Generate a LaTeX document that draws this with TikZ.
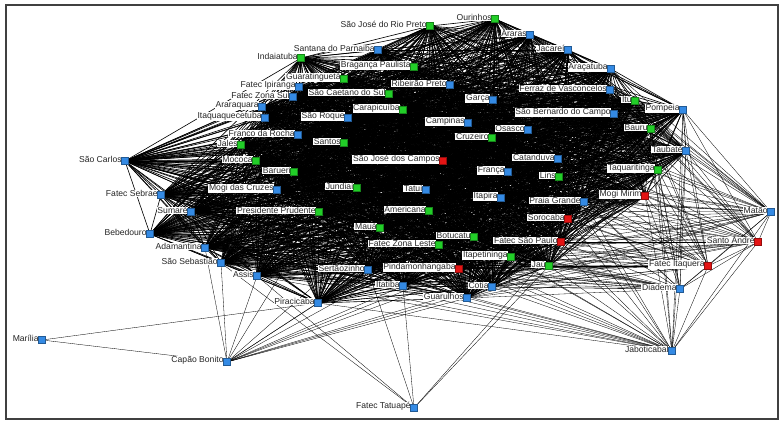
\documentclass[tikz,border=0pt]{standalone}
\usepackage{fontspec}
\setmainfont{Liberation Sans}
\usetikzlibrary{backgrounds}
\definecolor{nb}{RGB}{52,138,228}
\definecolor{ng}{RGB}{34,206,40}
\definecolor{nr}{RGB}{228,20,20}
\newcommand\nd[5]{%
  \node[lab] (#1l) at ({#2-2.5},{#3-1.5}) {#5};
  \node[mk,fill=#4,draw=#4!65!black] (#1) at (#2,#3) {};}
\begin{document}
\begin{tikzpicture}[x=1pt,y=-1pt,
  mk/.style={rectangle,minimum size=7pt,inner sep=0pt,line width=0.4pt},
  lab/.style={anchor=east,fill=white,inner sep=0.7pt,text=black!85,font=\fontsize{8.6}{9}\selectfont},
  edge/.style={draw=black,line width=0.32pt},
  coreedge/.style={draw=black,line width=0.62pt},
  frame/.style={draw=black!75,line width=1.3pt}]
\useasboundingbox (0,0) rectangle (784,426);
\draw[frame] (6,5) rectangle (778,419);
% nodes
\nd{sjrp}{430}{26}{ng}{São José do Rio Preto}
\nd{ouri}{495}{19}{ng}{Ourinhos}
\nd{santana}{378}{50}{nb}{Santana do Parnaiba}
\nd{indaia}{301}{58}{ng}{Indaiatuba}
\nd{braganca}{414}{67}{ng}{Bragança Paulista}
\nd{guara}{344}{79}{ng}{Guaratinguetá}
\nd{fipiranga}{299}{87}{nb}{Fatec Ipiranga}
\nd{fzsul}{293}{97}{nb}{Fatec Zona Sul}
\nd{ribeirao}{450}{85}{nb}{Ribeirão Preto}
\nd{scaetano}{389}{94}{ng}{São Caetano do Sul}
\nd{garca}{493}{100}{nb}{Garça}
\nd{carapi}{403}{110}{ng}{Carapicuíba}
\nd{sroque}{348}{118}{nb}{São Roque}
\nd{campinas}{468}{123}{nb}{Campinas}
\nd{araraquara}{262}{107}{nb}{Araraquara}
\nd{itaqua}{265}{118}{nb}{Itaquaquecetuba}
\nd{franco}{298}{135}{nb}{Franco da Rocha}
\nd{santos}{344}{143}{ng}{Santos}
\nd{cruzeiro}{492}{138}{ng}{Cruzeiro}
\nd{osasco}{528}{130}{nb}{Osasco}
\nd{sjc}{443}{161}{nr}{São José dos Campos}
\nd{jales}{241}{145}{ng}{Jales}
\nd{mococa}{256}{161}{ng}{Mococa}
\nd{barueri}{294}{172}{ng}{Barueri}
\nd{franca}{508}{172}{nb}{França}
\nd{mogicruzes}{277}{190}{nb}{Mogi das Cruzes}
\nd{jundiai}{357}{188}{ng}{Jundiaí}
\nd{tatui}{426}{190}{nb}{Tatuí}
\nd{itapira}{501}{198}{nb}{Itapira}
\nd{pprudente}{319}{212}{ng}{Presidente Prudente}
\nd{americana}{429}{211}{ng}{Americana}
\nd{araras}{530}{35}{nb}{Araras}
\nd{jacarei}{568}{50}{nb}{Jacareí}
\nd{aracatuba}{611}{69}{nb}{Araçatuba}
\nd{ferraz}{610}{90}{nb}{Ferraz de Vasconcelos}
\nd{itu}{635}{101}{ng}{Itú}
\nd{pompeia}{683}{110}{nb}{Pompeia}
\nd{sbc}{614}{114}{nb}{São Bernardo do Campo}
\nd{bauru}{651}{129}{ng}{Bauru}
\nd{taubate}{686}{151}{nb}{Taubaté}
\nd{catanduva}{558}{159}{nb}{Catanduva}
\nd{taquari}{658}{170}{ng}{Taquaritinga}
\nd{lins}{559}{177}{ng}{Lins}
\nd{mogimirim}{645}{196}{nr}{Mogi Mirim}
\nd{praiag}{584}{202}{nb}{Praia Grande}
\nd{matao}{771}{212}{nb}{Matão}
\nd{sorocaba}{568}{219}{nr}{Sorocaba}
\nd{fsp}{561}{242}{nr}{Fatec São Paulo}
\nd{standre}{758}{242}{nr}{Santo André}
\nd{itapet}{511}{257}{ng}{Itapetininga}
\nd{jau}{549}{266}{ng}{Jaú}
\nd{fitaquera}{708}{266}{nr}{Fatec Itaquera}
\nd{diadema}{680}{289}{nb}{Diadema}
\nd{jabot}{672}{351}{nb}{Jaboticabal}
\nd{botucatu}{474}{237}{ng}{Botucatu}
\nd{fzleste}{439}{245}{ng}{Fatec Zona Leste}
\nd{pinda}{459}{269}{nr}{Pindamonhangaba}
\nd{itatiba}{403}{286}{nb}{Itatiba}
\nd{cotia}{492}{287}{nb}{Cotia}
\nd{guarulhos}{467}{298}{nb}{Guarulhos}
\nd{maua}{380}{228}{ng}{Mauá}
\nd{sertao}{368}{270}{nb}{Sertãozinho}
\nd{piracicaba}{318}{303}{nb}{Piracicaba}
\nd{ftatuape}{414}{408}{nb}{Fatec Tatuapé}
\nd{assis}{257}{276}{nb}{Assis}
\nd{sumare}{191}{212}{nb}{Sumaré}
\nd{bebedouro}{150}{234}{nb}{Bebedouro}
\nd{adamantina}{205}{248}{nb}{Adamantina}
\nd{ssebastiao}{221}{263}{nb}{São Sebastião}
\nd{marilia}{42}{340}{nb}{Marília}
\nd{capao}{227}{362}{nb}{Capão Bonito}
\nd{scarlos}{125}{161}{nb}{São Carlos}
\nd{fsebrae}{161}{195}{nb}{Fatec Sebrae}
% edges
\def\corelist{sjrp,ouri,santana,indaia,braganca,guara,fipiranga,fzsul,ribeirao,scaetano,garca,carapi,sroque,campinas,araraquara,itaqua,franco,santos,cruzeiro,osasco,sjc,jales,mococa,barueri,franca,mogicruzes,jundiai,tatui,itapira,pprudente,americana,araras,jacarei,aracatuba,ferraz,itu,pompeia,sbc,bauru,taubate,catanduva,taquari,lins,mogimirim,praiag,sorocaba,fsp,itapet,jau,botucatu,fzleste,pinda,itatiba,cotia,guarulhos,maua,sertao,piracicaba,assis,sumare,bebedouro,adamantina,ssebastiao,scarlos,fsebrae}
\begin{scope}[on background layer]
\fill[white] (0,0) rectangle (784,426);
\foreach \a [count=\i] in \corelist {
  \foreach \b [count=\j] in \corelist {
    \ifnum\j>\i \draw[coreedge] (\a) -- (\b); \fi
  }
}
\foreach \s/\lst in {
  marilia/{capao,piracicaba},
  capao/{assis,ssebastiao,adamantina,piracicaba,sertao,itatiba,guarulhos,cotia,pinda,fzleste,maua,jau,pprudente,itapet},
  ftatuape/{ssebastiao,assis,sertao,itatiba,jau,fsp},
  jabot/{piracicaba,guarulhos,cotia,jau,itapet,fsp,sorocaba,praiag,mogimirim,taquari,taubate,pompeia,fitaquera,standre,matao,diadema,botucatu,pinda,assis,sertao,itatiba,fzleste,ssebastiao,adamantina,maua,lins,bauru,itapira},
  diadema/{ssebastiao,adamantina,assis,bebedouro,sumare,sertao,itatiba,guarulhos,cotia,jau,pinda,fzleste,itapet,mogimirim,taquari,taubate,pompeia,fitaquera,standre,matao,fsp,sorocaba,bauru,lins,maua,pprudente,botucatu,praiag,itu},
  fitaquera/{mogimirim,taquari,taubate,pompeia,bauru,itu,jau,fsp,sorocaba,praiag,itapet,cotia,guarulhos,lins,catanduva,standre,matao,botucatu,pinda,sbc,piracicaba,assis,ssebastiao,adamantina,fzleste,maua,americana,itapira,franca,sertao},
  standre/{mogimirim,taquari,taubate,pompeia,bauru,jau,fsp,sorocaba,praiag,itapet,cotia,guarulhos,lins,matao,itu,pinda,fzleste,botucatu,catanduva,osasco,franca,itapira,sbc,ferraz,americana,tatui,maua,sertao,itatiba},
  matao/{mogimirim,taquari,taubate,pompeia,bauru,itu,jau,fsp,sorocaba,praiag,lins,catanduva,sbc,ferraz,aracatuba,cotia,guarulhos,itapet,franca,itapira,osasco,garca,jacarei,botucatu,pinda,americana,tatui}} {
  \foreach \t in \lst { \draw[edge] (\s) -- (\t); }
}
\end{scope}
\end{tikzpicture}
\end{document}
